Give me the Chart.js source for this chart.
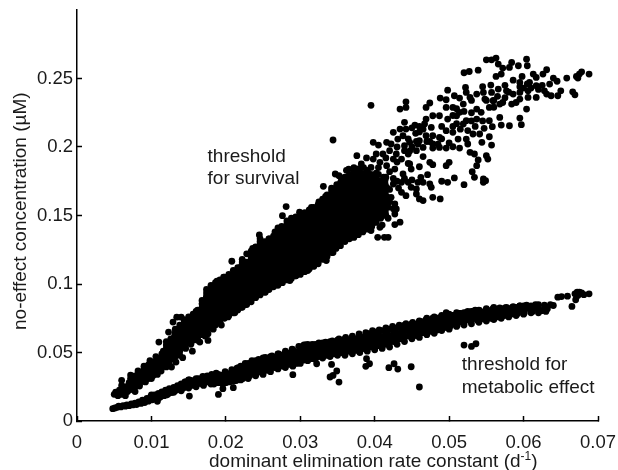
<!DOCTYPE html>
<html>
<head>
<meta charset="utf-8">
<title>No-effect concentration</title>
<script src="https://cdn.jsdelivr.net/npm/chart.js@4"></script>
<style>
  html, body { margin: 0; padding: 0; background: #fff; }
  canvas { display: block; }
</style>
</head>
<body>
<canvas id="chart" width="618" height="470"></canvas>
<script>
// values: [elimination rate, no-effect concentration]
const survivalCore = [
  [.0050,.0195],[.0052,.0210],[.0055,.0185],[.0057,.0225],[.0060,.0195],[.0060,.0297],[.0063,.0245],[.0065,.0185],
  [.0068,.0215],[.0070,.0280],[.0072,.0335],[.0074,.0235],[.0078,.0215],[.0079,.0300],[.0082,.0365],[.0084,.0255],
  [.0088,.0330],[.0090,.0400],[.0092,.0285],[.0096,.0345],[.0098,.0440],[.0100,.0310],[.0103,.0380],[.0106,.0470],
  [.0108,.0340],[.0110,.0420],[.0110,.0576],[.0113,.0365],[.0116,.0510],[.0118,.0440],[.0120,.0395],[.0122,.0442],
  [.0123,.0649],[.0124,.0560],[.0124,.0418],[.0127,.0394],[.0128,.0505],[.0129,.0722],[.0131,.0620],[.0133,.0430],
  [.0134,.0758],[.0136,.0550],[.0138,.0480],[.0140,.0758],[.0141,.0660],[.0142,.0462],[.0145,.0590],[.0146,.0530],
  [.0148,.0680],[.0150,.0730],[.0151,.0620],[.0153,.0560],[.0155,.0510],[.0158,.0700],[.0159,.0650],[.0160,.0800],
  [.0162,.0590],[.0165,.0576],[.0166,.0750],[.0168,.0810],[.0170,.0680],[.0172,.0620],[.0174,.0900],[.0175,.0780],
  [.0176,.0588],[.0176,.0637],[.0178,.0850],[.0180,.0970],[.0181,.0710],[.0183,.0670],[.0185,.0920],[.0186,.0810],
  [.0188,.1020],[.0190,.0750],[.0192,.0870],[.0194,.0700],[.0196,.0980],[.0197,.1050],[.0200,.0800],[.0201,.0910],
  [.0203,.0760],[.0205,.1030],[.0206,.0850],[.0208,.1166],[.0210,.0960],[.0212,.0790],[.0213,.1080],[.0215,.0890],
  [.0218,.1010],[.0220,.0830],[.0221,.1130],[.0223,.1086],[.0225,.0930],[.0226,.0850],[.0228,.1220],[.0229,.1050],
  [.0231,.0980],[.0233,.0880],[.0235,.1160],[.0236,.1260],[.0238,.1100],[.0240,.0920],[.0241,.1020],[.0243,.1210],
  [.0245,.1358],[.0246,.0960],[.0248,.1281],[.0249,.1070],[.0251,.1150],[.0253,.0940],[.0255,.1000],[.0256,.1230],
  [.0258,.1330],[.0260,.1090],[.0261,.0980],[.0263,.1170],[.0265,.1270],[.0266,.1380],[.0268,.1040],[.0270,.1120],
  [.0272,.1010],[.0273,.1220],[.0275,.1420],[.0276,.1499],[.0278,.1330],[.0279,.1080],[.0281,.1565],[.0282,.1170],
  [.0284,.1270],[.0286,.1025],[.0287,.1380],[.0289,.1100],[.0291,.1470],[.0292,.1210],[.0294,.1060],[.0296,.1320],
  [.0298,.1420],[.0299,.1524],[.0300,.1150],[.0302,.1260],[.0304,.1090],[.0306,.1370],[.0308,.1490],[.0310,.1098],
  [.0311,.1200],[.0313,.1310],[.0315,.1560],[.0316,.1430],[.0318,.1130],[.0320,.1250],[.0322,.1370],[.0324,.1147],
  [.0325,.1600],[.0326,.1480],[.0328,.1300],[.0330,.1190],[.0332,.1420],[.0334,.1640],[.0335,.1171],[.0336,.1530],
  [.0338,.1260],[.0340,.1370],[.0342,.1700],[.0344,.1230],[.0345,.1480],[.0346,.1600],[.0348,.1310],[.0350,.1420],
  [.0352,.1280],[.0354,.1550],[.0356,.1670],[.0358,.1370],[.0360,.1480],[.0361,.1330],[.0363,.1600],[.0365,.1720],
  [.0367,.1430],[.0369,.1540],[.0370,.1350],[.0372,.1650],[.0374,.1470],[.0376,.1380],[.0378,.1590],[.0380,.1700],
  [.0381,.1520],[.0383,.1420],[.0385,.1630],[.0387,.1780],[.0389,.1470],[.0391,.1570],[.0393,.1680],[.0395,.1390],
  [.0396,.1520],[.0398,.1610],[.0400,.1450],[.0402,.1720],[.0404,.1560],[.0406,.1650],[.0408,.1480],[.0410,.1590],
  [.0412,.1780],[.0414,.1530],[.0416,.1640],[.0418,.1560],[.0420,.1690],[.0335,.1390],[.0300,.1340],[.0270,.1300],
  [.0240,.1130],[.0215,.0980],[.0190,.0820],[.0165,.0690],[.0140,.0610],[.0115,.0470],[.0095,.0380],[.0075,.0285],
  [.0355,.1480],[.0318,.1360],[.0285,.1190],[.0255,.1100],[.0228,.0960],[.0202,.0870],[.0178,.0730],[.0152,.0590],
  [.0290,.1250],[.0310,.1400],[.0330,.1510],[.0350,.1600],[.0370,.1580],[.0390,.1640],[.0340,.1540],[.0320,.1440]
];
// cross-sections through the solid part of the upper band
const survivalFillK = [.0060,.0066,.0072,.0078,.0084,.0090,.0096,.0102,.0108,.0114,.0120,.0126,.0132,.0138,.0144,.0150,
  .0156,.0162,.0168,.0174,.0180,.0186,.0192,.0198,.0204,.0210,.0216,.0222,.0228,.0234,.0240,.0246,.0252,.0258,.0264,
  .0270,.0276,.0282,.0288,.0294,.0300,.0306,.0312,.0318,.0324,.0330,.0336,.0342,.0348,.0354,.0360,.0366,.0372,.0378,
  .0384,.0390,.0396,.0402,.0408,.0414];
const survivalFillC = [
  [.022,.026],[.0215,.025],[.023,.0255,.028,.031],[.025,.027,.029,.031,.033],[.027,.029,.031,.033,.035],[.029,.031,.033,.0355,.038],
  [.031,.0335,.036,.0385,.041],[.033,.0355,.038,.0405,.043],[.036,.0385,.041,.043,.045],[.039,.0415,.044,.0465,.049],
  [.043,.0455,.048,.0505,.053,.0555,.058],[.045,.0475,.050,.0525,.055,.0575,.060],
  [.047,.0495,.052,.0545,.057,.0595,.062,.0645,.067],[.051,.053,.055,.0575,.060,.0625,.065,.0675,.070],
  [.055,.0575,.060,.0625,.065,.0675,.070,.072,.074],[.057,.0595,.062,.0645,.067,.0695,.072,.074,.076],
  [.059,.0615,.064,.0665,.069,.0715,.074,.076,.078],[.061,.0635,.066,.0685,.071,.0735,.076,.0785,.081],
  [.063,.0655,.068,.0705,.073,.0755,.078,.0805,.083,.0855,.088],[.065,.068,.071,.0735,.076,.0785,.081,.0835,.086,.0885,.091,.0935,.096],
  [.068,.071,.074,.0765,.079,.0815,.084,.0865,.089,.0915,.094,.0965,.099],[.070,.0725,.075,.078,.081,.0835,.086,.0885,.091,.0935,.096,.0985,.101],
  [.072,.0745,.077,.080,.083,.0855,.088,.0905,.093,.0955,.098,.1005,.103],[.075,.0775,.080,.0825,.085,.0875,.090,.093,.096,.098,.100,.1025,.105],
  [.077,.0795,.082,.085,.088,.0905,.093,.0955,.098,.1005,.103,.105,.107],[.079,.0815,.084,.087,.090,.0925,.095,.0975,.100,.1025,.105,.1075,.110],
  [.081,.0835,.086,.089,.092,.0945,.097,.0995,.102,.1045,.107,.1095,.112],[.083,.0855,.088,.091,.094,.0965,.099,.1015,.104,.1065,.109,.1115,.114,.116,.118],
  [.085,.0875,.090,.0925,.095,.098,.101,.1035,.106,.1085,.111,.1135,.116],[.087,.090,.093,.0955,.098,.1005,.103,.1055,.108,.111,.114,.1165,.119,.1215,.124],
  [.090,.0925,.095,.0975,.100,.103,.106,.1085,.111,.1135,.116,.1185,.121,.124,.127],[.092,.0945,.097,.0995,.102,.105,.108,.1105,.113,.116,.119,.1215,.124,.1265,.129,.131,.133],
  [.094,.0965,.099,.102,.105,.1075,.110,.113,.116,.1185,.121,.1235,.126,.1285,.131],[.096,.0985,.101,.104,.107,.1095,.112,.1145,.117,.120,.123,.1255,.128,.1305,.133],
  [.098,.1005,.103,.106,.109,.1115,.114,.1165,.119,.122,.125,.1275,.130,.1325,.135],[.099,.102,.105,.1075,.110,.113,.116,.1185,.121,.124,.127,.1295,.132,.1345,.137,.139,.141],
  [.101,.1035,.106,.109,.112,.115,.118,.1205,.123,.1255,.128,.131,.134,.1365,.139],[.103,.1055,.108,.111,.114,.1165,.119,.122,.125,.1275,.130,.133,.136,.1385,.141,.1435,.146],
  [.104,.107,.110,.113,.116,.1185,.121,.124,.127,.1295,.132,.135,.138,.1405,.143,.1455,.148],[.106,.1085,.111,.114,.117,.1195,.122,.125,.128,.1305,.133,.136,.139,.1415,.144,.1465,.149],
  [.107,.1095,.112,.115,.118,.121,.124,.1265,.129,.132,.135,.1375,.140,.143,.146,.148,.150],[.109,.112,.115,.1175,.120,.123,.126,.1285,.131,.134,.137,.1395,.142,.145,.148,.150,.152],
  [.111,.114,.117,.1195,.122,.125,.128,.1305,.133,.136,.139,.1415,.144,.147,.150,.152,.154],[.113,.116,.119,.122,.125,.1275,.130,.133,.136,.1385,.141,.144,.147,.1495,.152,.154,.156],
  [.116,.1185,.121,.124,.127,.1295,.132,.135,.138,.141,.144,.1465,.149,.152,.155,.158],[.118,.121,.124,.1265,.129,.132,.135,.1375,.140,.143,.146,.1485,.151,.154,.157,.1595,.162],
  [.120,.123,.126,.1285,.131,.134,.137,.1395,.142,.145,.148,.151,.154,.1565,.159,.162,.165],[.123,.126,.129,.1315,.134,.137,.140,.1425,.145,.148,.151,.154,.157,.160,.163,.1655,.168],
  [.126,.1285,.131,.134,.137,.140,.143,.1455,.148,.151,.154,.157,.160,.163,.166,.168,.170],[.128,.131,.134,.137,.140,.1425,.145,.148,.151,.154,.157,.160,.163,.166,.169,.1715,.174],
  [.131,.134,.137,.1395,.142,.145,.148,.151,.154,.157,.160,.163,.166,.169,.172,.175,.178],[.133,.136,.139,.142,.145,.1475,.150,.153,.156,.159,.162,.165,.168,.171,.174,.177,.180],
  [.134,.137,.140,.143,.146,.149,.152,.155,.158,.161,.164,.167,.170,.173,.176,.1795,.183],[.136,.139,.142,.145,.148,.151,.154,.157,.160,.163,.166,.169,.172,.175,.178,.181,.184],
  [.138,.141,.144,.147,.150,.153,.156,.159,.162,.165,.168,.171,.174,.177,.180],[.140,.143,.146,.149,.152,.155,.158,.161,.164,.167,.170,.173,.176,.179,.182],
  [.142,.145,.148,.151,.154,.157,.160,.163,.166,.169,.172,.175,.178],[.145,.148,.151,.154,.157,.160,.163,.166,.169,.172,.175,.178,.181],
  [.150,.153,.156,.159,.162,.165,.168,.171,.174],[.152,.155,.158,.161,.164,.167,.170,.173,.176]
];
const survivalSparse = [
  [.0344,.2051],[.0395,.2304],[.0398,.2034],[.0405,.2014],[.0376,.1937],[.0389,.1920],[.0365,.1839],[.0347,.1803],
  [.0355,.1774],[.0331,.1713],[.0349,.1725],[.0344,.1662],[.0442,.2330],[.0434,.2277],[.0442,.2289],[.0474,.2321],
  [.0469,.2289],[.0498,.2415],[.0488,.2357],[.0496,.2345],[.0507,.2374],[.0514,.2357],[.0522,.2435],[.0523,.2398],
  [.0520,.2542],[.0527,.2551],[.0539,.2561],[.0550,.2636],[.0557,.2636],[.0563,.2649],[.0604,.2641],[.0605,.2593],
  [.0566,.2605],[.0572,.2576],[.0584,.2617],[.0581,.2581],[.0593,.2593],[.0570,.2532],[.0563,.2515],[.0631,.2564],
  [.0613,.2532],[.0598,.2515],[.0586,.2488],[.0595,.2471],[.0608,.2471],[.0617,.2508],[.0626,.2532],[.0640,.2503],
  [.0658,.2503],[.0671,.2515],[.0675,.2532],[.0678,.2549],[.0688,.2532],[.0673,.2503],[.0635,.2459],[.0617,.2447],
  [.0606,.2410],[.0595,.2398],[.0586,.2386],[.0577,.2410],[.0566,.2423],[.0556,.2452],[.0557,.2398],[.0546,.2398],
  [.0537,.2386],[.0528,.2362],[.0548,.2350],[.0559,.2338],[.0572,.2325],[.0584,.2313],[.0604,.2277],[.0590,.2325],
  [.0606,.2362],[.0617,.2362],[.0628,.2410],[.0631,.2386],[.0637,.2374],[.0646,.2374],[.0666,.2403],[.0669,.2381],
  [.0595,.2211],[.0597,.2163],[.0581,.2155],[.0570,.2160],[.0568,.2216],[.0554,.2192],[.0558,.2148],[.0547,.2136],
  [.0532,.2095],[.0523,.2058],[.0525,.2022],[.0541,.2095],[.0554,.2075],[.0544,.2034],[.0557,.2014],[.0537,.2204],
  [.0523,.2192],[.0514,.2253],[.0505,.2289],[.0496,.2289],[.0519,.2313],[.0537,.2277],[.0554,.2289],[.0568,.2313],
  [.0543,.2253],[.0469,.2204],[.0467,.2168],[.0478,.2228],[.0487,.2228],[.0498,.2204],[.0510,.2228],[.0519,.2168],
  [.0476,.2143],[.0478,.2082],[.0469,.2082],[.0460,.2046],[.0454,.2160],[.0434,.2131],[.0442,.2131],[.0425,.2107],
  [.0438,.2082],[.0431,.2058],[.0422,.2022],[.0416,.2034],[.0447,.2034],[.0458,.2022],[.0465,.1997],[.0456,.1973],
  [.0478,.2022],[.0487,.2070],[.0496,.2119],[.0505,.2107],[.0512,.2058],[.0505,.2002],[.0496,.1992],[.0487,.1997],
  [.0478,.1992],[.0514,.1992],[.0528,.1961],[.0534,.1949],[.0539,.1905],[.0550,.1937],[.0552,.1912],[.0537,.1864],
  [.0531,.1820],[.0534,.1779],[.0546,.1767],[.0549,.1754],[.0546,.1742],[.0520,.1725],[.0507,.1774],[.0498,.1742],
  [.0490,.1750],[.0500,.1888],[.0496,.1864],[.0474,.1888],[.0478,.1871],[.0445,.1949],[.0440,.1973],[.0429,.1949],
  [.0420,.1973],[.0411,.1949],[.0402,.1949],[.0398,.1912],[.0382,.1876],[.0380,.1839],[.0395,.1851],[.0407,.1888],
  [.0416,.1864],[.0425,.1912],[.0436,.1912],[.0447,.1876],[.0449,.1839],[.0460,.1856],[.0438,.1803],[.0427,.1839],
  [.0462,.1779],[.0471,.1798],[.0458,.1742],[.0465,.1742],[.0474,.1730],[.0476,.1706],[.0478,.1633],[.0488,.1621],
  [.0456,.1657],[.0460,.1621],[.0465,.1609],[.0436,.1669],[.0442,.1645],[.0449,.1706],[.0456,.1694],[.0434,.1451],
  [.0427,.1434],[.0404,.1341],[.0413,.1341],[.0418,.1341],[.0407,.1414],[.0427,.1511],[.0429,.1548],[.0427,.1584],
  [.0422,.1633],[.0416,.1706],[.0409,.1754],[.0398,.1779],[.0384,.1803],[.0371,.1754],[.0425,.1730],[.0436,.1742],
  [.0445,.1742],[.0393,.1730],[.0380,.1730],[.0385,.1850],[.0395,.1800],[.0405,.1800],[.0415,.1780],[.0425,.1770],
  [.0432,.1700],[.0405,.1700],[.0420,.1600],[.0415,.1500],[.0425,.1550],[.0410,.1430],[.0418,.1480],[.0372,.1850],
  [.0352,.1790],[.0362,.1830],[.0460,.2150],[.0460,.2110],[.0447,.1970],[.0456,.2040],[.0474,.2040],[.0485,.2020],
  [.0500,.2030],[.0465,.1930],[.0530,.2250],[.0510,.2280],[.0560,.2340],[.0575,.2360],[.0595,.2350],[.0610,.2430],
  [.0625,.2450],[.0600,.2430],[.0575,.2450],[.0545,.2440],[.0530,.2340],[.0520,.2260],[.0505,.2230],[.0440,.2180],
  [.0450,.2140],[.0465,.2130],[.0490,.2150],[.0505,.2150],[.0515,.2130],[.0525,.2120],[.0535,.2150],[.0545,.2190],
  [.0530,.2190],[.0510,.2170],[.0490,.2060],[.0470,.2040],[.0450,.2000],[.0440,.2010],[.0430,.2000],[.0445,.2060],
  [.0455,.2100],[.0415,.1920],[.0430,.1890],[.0445,.1880],[.0440,.1770],[.0450,.1760],[.0430,.1750],[.0420,.1820],
  [.0405,.1850],[.0390,.1830],[.0560,.2290],[.0550,.2340],[.0565,.2370],[.0580,.2400],[.0595,.2440],[.0605,.2460],
  [.0620,.2420],[.0645,.2480],[.0650,.2410]
];
const metabolicCore = [
  [.0048,.0090],[.0051,.0095],[.0054,.0100],[.0056,.0108],[.0059,.0103],[.0062,.0112],[.0065,.0108],[.0067,.0118],
  [.0070,.0112],[.0073,.0125],[.0075,.0117],[.0078,.0130],[.0080,.0120],[.0083,.0140],[.0086,.0128],[.0088,.0152],
  [.0091,.0135],[.0094,.0165],[.0096,.0145],[.0099,.0178],[.0101,.0155],[.0104,.0190],[.0107,.0165],[.0109,.0200],
  [.0112,.0175],[.0114,.0212],[.0117,.0185],[.0119,.0225],[.0122,.0195],[.0124,.0236],[.0127,.0208],[.0130,.0245],
  [.0132,.0220],[.0135,.0258],[.0138,.0230],[.0140,.0270],[.0143,.0240],[.0146,.0285],[.0149,.0250],[.0151,.0300],
  [.0154,.0260],[.0157,.0290],[.0160,.0270],[.0163,.0310],[.0166,.0275],[.0169,.0325],[.0172,.0285],[.0175,.0330],
  [.0178,.0295],[.0181,.0340],[.0184,.0270],[.0187,.0350],[.0190,.0300],[.0193,.0320],[.0196,.0270],[.0199,.0360],
  [.0202,.0315],[.0205,.0285],[.0208,.0375],[.0211,.0335],[.0214,.0295],[.0217,.0390],[.0220,.0350],[.0223,.0310],
  [.0226,.0420],[.0229,.0375],[.0232,.0330],[.0235,.0440],[.0238,.0395],[.0241,.0345],[.0244,.0450],[.0247,.0410],
  [.0250,.0365],[.0253,.0465],[.0256,.0425],[.0259,.0380],[.0262,.0475],[.0265,.0440],[.0268,.0395],[.0271,.0490],
  [.0274,.0445],[.0277,.0400],[.0280,.0510],[.0283,.0460],[.0286,.0415],[.0289,.0525],[.0292,.0475],[.0295,.0420],
  [.0298,.0545],[.0301,.0500],[.0304,.0450],[.0307,.0555],[.0310,.0510],[.0313,.0460],[.0316,.0560],[.0319,.0515],
  [.0322,.0470],[.0325,.0570],[.0328,.0525],[.0331,.0475],[.0334,.0575],[.0337,.0530],[.0340,.0480],[.0343,.0585],
  [.0346,.0540],[.0349,.0490],[.0352,.0600],[.0355,.0550],[.0358,.0500],[.0361,.0610],[.0364,.0560],[.0367,.0510],
  [.0370,.0620],[.0373,.0570],[.0376,.0515],[.0379,.0635],[.0382,.0585],[.0385,.0530],[.0388,.0645],[.0391,.0600],
  [.0394,.0550],[.0397,.0660],[.0400,.0610],[.0403,.0560],[.0406,.0665],[.0409,.0615],[.0412,.0570],[.0415,.0680],
  [.0418,.0630],[.0421,.0580],[.0424,.0690],[.0427,.0640],[.0430,.0595],[.0433,.0700],[.0436,.0650],[.0439,.0605],
  [.0442,.0710],[.0445,.0665],[.0448,.0620],[.0451,.0720],[.0454,.0675],[.0457,.0625],[.0460,.0725],[.0463,.0690],
  [.0466,.0645],[.0469,.0740],[.0472,.0700],[.0475,.0655],[.0478,.0750],[.0481,.0710],[.0484,.0665],[.0487,.0755],
  [.0490,.0715],[.0493,.0680],[.0496,.0790],[.0499,.0735],[.0502,.0695],[.0505,.0770],[.0508,.0735],[.0511,.0700],
  [.0514,.0785],[.0517,.0750],[.0520,.0715],[.0523,.0790],[.0526,.0755],[.0529,.0725],[.0532,.0800],[.0535,.0765],
  [.0538,.0735],[.0541,.0805],[.0544,.0775],[.0547,.0745],[.0550,.0815],[.0553,.0785],[.0556,.0750],[.0559,.0820],
  [.0562,.0790],[.0565,.0760],[.0568,.0825],[.0571,.0795],[.0574,.0770],[.0577,.0830],[.0580,.0800],[.0583,.0780],
  [.0586,.0835],[.0589,.0810],[.0592,.0785],[.0595,.0840],[.0598,.0815],[.0601,.0790],[.0604,.0845],[.0608,.0820],
  [.0612,.0800],[.0616,.0850],[.0620,.0825],[.0624,.0805],[.0628,.0845],[.0632,.0820],[.0636,.0850],[.0640,.0843],
  [.0646,.0904],[.0659,.0911],[.0669,.0928],[.0675,.0941],[.0673,.0916],[.0688,.0928],[.0670,.0885],[.0665,.0836],
  [.0678,.0935],[.0672,.0940],[.0681,.0922],[.0651,.0908]
];
// cross-sections through the solid part of the lower band
const metabolicFillK = [.010,.011,.012,.013,.014,.015,.016,.017,.018,.019,.020,.021,.022,.023,.024,.025,.026,.027,.028,
  .029,.030,.031,.032,.033,.034,.035,.036,.037,.038,.039,.040,.041,.042,.043,.044,.045,.046,.047,.048,.049,.050,.051,
  .052,.053,.054,.055,.056,.057,.058,.059,.060,.061,.062,.063,
  .0145,.0155,.0165,.0175,.0185,.0195,.0205,.0215,.0225,.0235,.0245,.0255,.0265,.0275,.0285,.0295,.0305,.0315,.0325,
  .0335,.0345,.0355,.0365,.0375,.0385,.0395,.0405,.0415,.0425,.0435,.0445,.0455,.0465,.0475,.0485,.0495,.0505,.0515,
  .0525,.0535,.0545,.0555,.0565,.0575,.0585,.0595,.0605,.0615];
const metabolicFillC = [
  [.0165,.019],[.017,.020],[.019,.022],[.021,.024],[.022,.026],[.024,.027,.030],[.025,.028,.031],[.026,.029,.032],
  [.027,.030,.033],[.028,.031,.034],[.028,.032,.035],[.029,.033,.036],[.030,.034,.037,.040],[.031,.035,.039,.042],
  [.033,.036,.040,.044],[.034,.038,.042,.046],[.036,.040,.044,.047],[.038,.042,.046,.049],[.039,.043,.047,.050],
  [.040,.044,.048,.052],[.042,.046,.050,.054],[.044,.048,.052,.056],[.045,.049,.053,.056],[.046,.050,.054,.057],
  [.047,.051,.055,.058],[.048,.052,.056,.059],[.048,.052,.056,.060],[.049,.053,.057,.061],[.050,.054,.058,.062],
  [.051,.055,.059,.064],[.052,.056,.060,.065],[.053,.057,.061,.066],[.054,.058,.062,.067],[.056,.060,.064,.068],
  [.058,.062,.066,.070],[.060,.064,.068,.071],[.061,.065,.069,.073],[.063,.067,.071,.075],[.064,.068,.072,.076],
  [.066,.070,.073,.077],[.067,.071,.074,.078],[.069,.072,.075,.079],[.070,.073,.076,.079],[.071,.074,.077,.080],
  [.072,.075,.078,.081],[.073,.076,.079,.082],[.074,.077,.080,.083],[.075,.078,.081],[.076,.079,.082],[.077,.080,.083],
  [.078,.081,.084],[.079,.082,.084],[.079,.082,.085],[.080,.083],
  [.0255,.0285],[.0265,.0295],[.0275,.0305],[.0285,.0315],[.0295,.0325],[.030,.0335],[.031,.0345],[.032,.0355,.0385],
  [.033,.037,.0405],[.035,.038,.0415],[.036,.040,.044],[.037,.041,.045],[.039,.043,.0465],[.0405,.0445,.048],
  [.0415,.0455,.0495],[.0425,.0465,.0505],[.0445,.0485,.0525,.0555],[.0455,.0495,.0535],[.047,.051,.055],[.048,.052,.056],
  [.049,.053,.057],[.050,.054,.058],[.051,.055,.059],[.052,.056,.060],[.053,.057,.061],[.054,.058,.062],[.055,.059,.063],
  [.056,.060,.064],[.058,.062,.066],[.060,.064,.068],[.062,.066,.0695],[.0625,.0665,.0705],[.0645,.0685,.0725],
  [.066,.0695,.0735],[.0675,.071,.0745],[.0695,.0725,.076],[.071,.074,.077],[.0725,.0755,.0785],[.074,.077,.080],
  [.075,.078,.081],[.0765,.0795],[.0775,.0805],[.0785,.0815],[.0795,.0825],[.0805,.083],[.0815,.084],[.0825,.0835],[.0825]
];
const metabolicOutliers = [
  [.0108,.0144],[.0151,.0182],[.0190,.0194],[.0196,.0236],[.0210,.0243],[.0290,.0338],[.0322,.0418],[.0342,.0413],
  [.0349,.0365],[.0344,.0333],[.0340,.0321],[.0352,.0284],[.0388,.0399],[.0393,.0418],[.0389,.0455],[.0419,.0389],
  [.0426,.0418],[.0431,.0379],[.0449,.0396],[.0460,.0248],[.0520,.0554],[.0530,.0544],[.0536,.0564]
];
const xTicks = [0, .01, .02, .03, .04, .05, .06, .07];
const yTicks = [0, .05, .1, .15, .2, .25];
const annotations = [
  { text: "threshold", k: .01754, c: .1893 },
  { text: "for survival", k: .01754, c: .173 },
  { text: "threshold for", k: .0517, c: .0372 },
  { text: "metabolic effect", k: .0517, c: .0204 }
];

const FONT = "'Liberation Sans', Arial, sans-serif";
const TEXT = "#1a1a1a";
const toPoints = list => list.map(p => ({ x: p[0], y: p[1] }));
const fromColumns = (ks, cs) => ks.flatMap((k, i) => cs[i].map(c => ({ x: k, y: c })));

// annotations and axis titles, the x title needs a raised "-1"
const labelsPlugin = {
  id: "labels",
  afterDatasetsDraw(chart) {
    const { ctx, scales } = chart;
    ctx.save();
    ctx.fillStyle = TEXT;
    ctx.font = "19px " + FONT;
    ctx.textBaseline = "alphabetic";
    annotations.forEach(a => {
      ctx.fillText(a.text, scales.x.getPixelForValue(a.k), scales.y.getPixelForValue(a.c));
    });

    let x = 209;
    ctx.fillText("dominant elimination rate constant (d", x, 467);
    x += ctx.measureText("dominant elimination rate constant (d").width;
    ctx.font = "12px " + FONT;
    ctx.fillText("-1", x, 460);
    x += ctx.measureText("-1").width;
    ctx.font = "19px " + FONT;
    ctx.fillText(")", x, 467);

    ctx.translate(26, 330);
    ctx.rotate(-Math.PI / 2);
    ctx.fillText("no-effect concentration (µM)", 0, 0);
    ctx.restore();
  }
};

new Chart(document.getElementById("chart"), {
  type: "scatter",
  data: {
    datasets: [
      { data: toPoints(survivalCore.concat(survivalSparse)).concat(fromColumns(survivalFillK, survivalFillC)) },
      { data: toPoints(metabolicCore.concat(metabolicOutliers)).concat(fromColumns(metabolicFillK, metabolicFillC)) }
    ]
  },
  plugins: [labelsPlugin],
  options: {
    responsive: false,
    animation: false,
    layout: { padding: { top: 10, right: 20 } },
    plugins: { legend: { display: false }, tooltip: { enabled: false } },
    elements: { point: { radius: 3.4, borderWidth: 0, backgroundColor: "#000" } },
    scales: {
      x: {
        type: "linear",
        min: 0,
        max: .07,
        afterBuildTicks: s => { s.ticks = xTicks.map(v => ({ value: v })); },
        afterFit: s => { s.height = 49; s.paddingLeft = 0; s.paddingRight = 0; },
        grid: { drawOnChartArea: false, tickLength: -5, tickColor: "#000", tickWidth: 1.5 },
        border: { color: "#000", width: 1.5 },
        ticks: { padding: 16, color: TEXT, font: { family: FONT, size: 18.5 }, maxRotation: 0, autoSkip: false, callback: v => String(v) }
      },
      y: {
        type: "linear",
        min: 0,
        max: .3,
        afterBuildTicks: s => { s.ticks = yTicks.map(v => ({ value: v })); },
        afterFit: s => { s.width = 77; s.paddingTop = 0; s.paddingBottom = 0; },
        grid: { drawOnChartArea: false, tickLength: -5, tickColor: "#000", tickWidth: 1.5 },
        border: { color: "#000", width: 1.5 },
        ticks: { padding: 9, color: TEXT, font: { family: FONT, size: 18.5 }, autoSkip: false, callback: v => String(v) }
      }
    }
  }
});
</script>
</body>
</html>
